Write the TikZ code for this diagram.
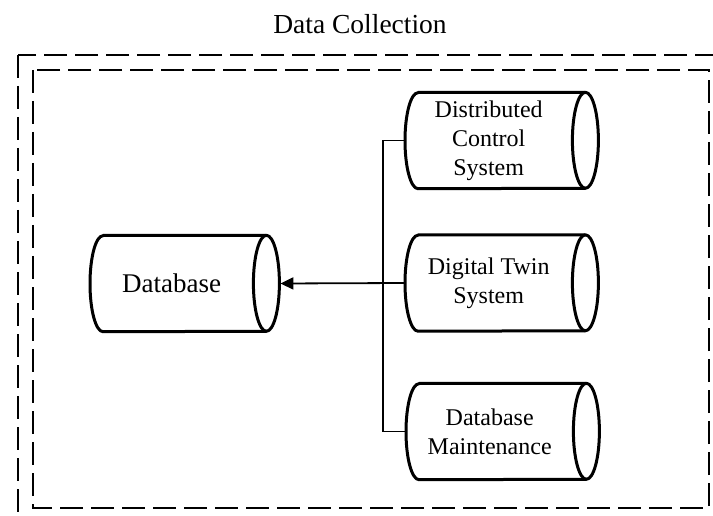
\documentclass[tikz,border=0pt]{standalone}
\usepackage{fontspec}
\setmainfont{Liberation Serif}
\usetikzlibrary{arrows.meta}

% Outline of a horizontal drum around the body node #1:
% curved left end, straight sides, full elliptical right end.
\newcommand\drumoutline[1]{%
  \draw[drumline] ([xshift=13pt]#1.north west) -- ([xshift=13pt]#1.north east)
    arc[start angle=90, end angle=-90, x radius=13pt, y radius=48pt]
    -- ([xshift=13pt]#1.south west)
    arc[start angle=270, end angle=90, x radius=13pt, y radius=48pt] -- cycle;
  \draw[drumline] ([xshift=13pt]#1.north east)
    arc[start angle=90, end angle=270, x radius=13pt, y radius=48pt];}

\begin{document}
\begin{tikzpicture}[x=1pt,y=-1pt,
  drum/.style={rectangle, inner sep=0pt, minimum height=96pt, align=center,
    anchor=west, font=\fontsize{24}{29}\selectfont},
  drumline/.style={line width=3pt, line join=round},
  frame/.style={line width=2.6pt, dash pattern=on 23pt off 8pt},
  link/.style={line width=1.8pt},
  title/.style={font=\fontsize{27.5}{33}\selectfont, inner sep=0pt}]
  \useasboundingbox (0,0) rectangle (713,516);
  \clip (0,0) rectangle (713,516);

  % nested dashed frames
  \draw[frame] (18,55) rectangle (730,530);
  \draw[frame] (33,70) rectangle (709,508);

  \node[title] (ttl) at (360,24) {Data Collection};

  % storage drums
  \node[drum, minimum width=163pt, font=\fontsize{27}{32}\selectfont]
    (db) at (90,283.5) {Database};
  \node[drum, minimum width=167pt] (dcs) at (405,140.5) {Distributed\\Control\\System};
  \node[drum, minimum width=167pt] (dts) at (405,283) {Digital Twin\\System};
  \node[drum, minimum width=167pt] (dm)  at (406,431.5) {Database\\Maintenance};
  \foreach \n in {db,dcs,dts,dm} {\drumoutline{\n}}

  % collection bus
  \coordinate (bus) at (383,283);
  \draw[link] (dcs.west) -| (bus) |- (dm.west);
  \draw[link, -{Triangle[length=13pt,width=12pt]}] (dts.west) -- ([xshift=27pt]db.east);
\end{tikzpicture}
\end{document}
